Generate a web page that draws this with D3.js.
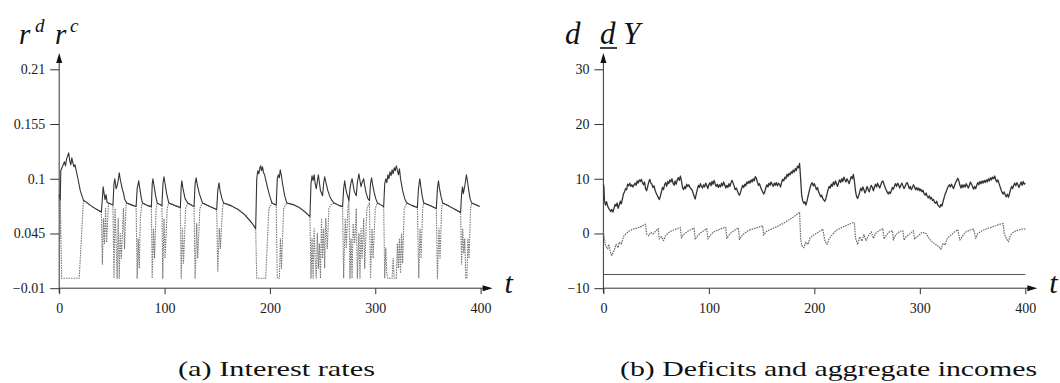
<!DOCTYPE html>
<html>
<head>
<meta charset="utf-8">
<script src="https://cdn.jsdelivr.net/npm/d3@7/dist/d3.min.js"></script>
<style>
  body { margin: 0; background: #fff; }
  svg { display: block; }
</style>
</head>
<body>
<svg id="chart" width="1060" height="383"></svg>
<script>
// ---- tick labels ----
const rTicks = [-0.01, 0.045, 0.1, 0.155, 0.21];
const rTickLabels = ["\u22120.01", "0.045", "0.1", "0.155", "0.21"];
const dTicks = [-10, 0, 10, 20, 30];
const dTickLabels = ["\u221210", "0", "10", "20", "30"];
const tTicks = [0, 100, 200, 300, 400];

// ---- (a) interest rates: r^d (solid) and r^c (dotted), [t, value] ----
const rd = [
  [0,0.084],[1,0.079],[1.5,0.108],[3,0.112],[5,0.117],[6,0.113],[7,0.12],[9,0.126],[10,0.118],[11,0.114],[12,0.121],[13,0.116],[14,0.112],[15,0.114],[16,0.109],[18,0.099],[20,0.088],[23,0.0785],
  [30,0.073],[35,0.0695],[40,0.0665],
  [41,0.08],[41.7,0.092],[42.5,0.086],[43.5,0.079],[44.5,0.084],[45.5,0.076],[47,0.0757],[51,0.0735],
  [52,0.095],[52.8,0.1],[54,0.09],[55,0.093],[56,0.098],[57,0.106],[58,0.099],[59,0.094],[60,0.089],[61,0.086],[62,0.08],[64,0.0757],[68,0.074],[73,0.072],
  [74,0.09],[75,0.095],[75.5,0.098],[76.5,0.09],[78,0.08],[79,0.0757],[84,0.073],[87.5,0.072],
  [88.3,0.095],[89,0.1],[90,0.093],[91.5,0.083],[93,0.0757],[97.5,0.073],
  [98.5,0.095],[99.4,0.102],[100.5,0.095],[102,0.085],[104,0.0757],[110,0.073],[115,0.071],
  [115.8,0.092],[116.4,0.098],[117.5,0.09],[119.5,0.08],[122,0.0757],[128,0.072],
  [129,0.095],[130,0.101],[131,0.094],[133,0.085],[136,0.0757],[143,0.072],[149.5,0.069],
  [150.5,0.088],[151.7,0.096],[152.7,0.088],[154.5,0.08],[156,0.0757],
  [163,0.073],[170,0.069],[176,0.064],[181,0.058],[184,0.054],[186.5,0.0497],
  [187.5,0.1],[188.5,0.108],[189.5,0.105],[190.5,0.111],[191.3,0.113],[192,0.108],[193,0.112],[194,0.106],[195,0.104],[196,0.099],[198,0.09],[200,0.082],[202,0.0757],[206,0.0735],
  [207,0.1],[208,0.104],[209,0.101],[209.8,0.109],[210.8,0.104],[212,0.095],[214,0.083],[216,0.0757],
  [222,0.074],[228,0.071],[233,0.067],[238,0.062],
  [239,0.095],[240,0.103],[241,0.098],[242,0.104],[243,0.095],[244,0.09],[245,0.097],[246,0.104],[247,0.096],[248,0.088],[250,0.083],[251,0.095],[252,0.102],[253,0.097],[255,0.088],[257,0.082],[259,0.078],[261,0.0757],[266,0.073],[269,0.072],
  [270,0.09],[271,0.098],[272,0.09],[273,0.085],[274,0.082],[275,0.078],[276,0.09],[277,0.096],[278,0.1],[279,0.094],[280,0.088],[281,0.085],[282,0.083],[283,0.096],[284.5,0.105],[285.5,0.098],[286.5,0.092],[287.5,0.096],[289,0.1],[290,0.093],[291.5,0.085],[293,0.08],[294.5,0.078],[295.5,0.095],[296.5,0.101],[297.5,0.094],[299,0.086],[300.5,0.08],[302,0.0757],[305,0.074],[308,0.072],
  [309,0.095],[310,0.1],[311,0.096],[312,0.104],[313,0.1],[314,0.107],[315,0.103],[316,0.109],[317,0.105],[318,0.111],[319,0.108],[320,0.113],[321,0.109],[322,0.104],[323,0.11],[324,0.1],[325,0.094],[326,0.088],[328,0.08],[330,0.0757],[335,0.073],[340,0.071],
  [341,0.09],[342.3,0.1],[343.3,0.092],[344.5,0.083],[346,0.0757],[352,0.073],[358,0.07],
  [359,0.09],[360,0.098],[361,0.09],[362.5,0.082],[364,0.0757],[370,0.0725],[376,0.069],[381,0.066],
  [382,0.085],[382.8,0.092],[383.6,0.085],[384.5,0.09],[385.5,0.096],[386.5,0.104],[387.5,0.098],[388.5,0.09],[390,0.08],[391.5,0.0757],[395,0.074],[399,0.072]
];
const rc = [
  [0,0.084],[0.5,0.04],[1,0.08],[1.5,0.05],[2.3,0.0],[19,0.0],[23,0.0785],
  [30,0.073],[35,0.0695],[40,0.0665],
  [41,0.014],[42,0.06],[43,0.035],[44,0.07],[45,0.036],[46.5,0.07],[47,0.0757],[51,0.0735],
  [52,0.0],[53,0.07],[54,0.04],[55,0.0],[56,0.06],[57,0.0],[58,0.045],[59,0.02],[61,0.07],[62,0.03],[63.5,0.075],[64,0.0757],[68,0.074],[73,0.072],
  [74,0.0],[75,0.04],[76,0.01],[77,0.06],[78.5,0.075],[79,0.0757],[84,0.073],[87.5,0.072],
  [88.3,0.0],[89.5,0.05],[90.5,0.02],[92,0.07],[93,0.0757],[97.5,0.073],
  [98.3,0.0],[99.5,0.06],[100.5,0.02],[102.5,0.07],[104,0.0757],[110,0.073],[115,0.071],
  [115.8,0.0],[117,0.05],[118,0.015],[120,0.07],[122,0.0757],[128,0.072],
  [129,0.0],[130.5,0.055],[131.5,0.02],[133.5,0.07],[136,0.0757],[143,0.072],[149.5,0.069],
  [150.5,0.007],[152,0.05],[153,0.03],[155,0.07],[156,0.0757],
  [163,0.073],[170,0.069],[176,0.064],[181,0.058],[184,0.054],[186.5,0.0497],
  [187.5,0.0],[196,0.0],[199,0.07],[202,0.0757],[206,0.0735],
  [207,0.0],[209,0.0],[210,0.04],[211,0.01],[213,0.07],[216,0.0757],
  [222,0.074],[228,0.071],[233,0.067],[238,0.062],
  [239,0.0],[240,0.04],[241,0.0],[242,0.05],[243,0.02],[244,0.0],[245,0.045],[246,0.01],[247,0.035],[248,0.0],[249,0.06],[250,0.02],[251,0.05],[252,0.01],[253,0.06],[254.5,0.03],[256,0.07],[258,0.074],[261,0.0757],[266,0.073],[269,0.072],
  [270,0.0],[271.5,0.06],[272.5,0.03],[274,0.07],[275,0.078],[276,0.0],[277,0.04],[278,0.0],[279,0.055],[280.5,0.035],[282,0.07],[283,0.0],[284.5,0.045],[285.5,0.0],[286.5,0.05],[287.5,0.02],[289,0.06],[290,0.01],[292,0.07],[294.5,0.076],[295.5,0.0],[297,0.05],[298,0.02],[300,0.07],[302,0.0757],[305,0.074],[308,0.072],
  [309,0.0],[310,0.03],[311,0.005],[312,0.0],[316,0.0],[317,0.02],[318,0.0],[320,0.0],[321,0.035],[322,0.01],[323,0.04],[324,0.005],[325,0.045],[326,0.015],[327.5,0.07],[330,0.0757],[335,0.073],[340,0.071],
  [341.3,0.0],[342.5,0.05],[343.5,0.02],[345,0.07],[346,0.0757],[352,0.073],[358,0.07],
  [359,0.0],[360.5,0.05],[361.5,0.02],[363,0.07],[364,0.0757],[370,0.0725],[376,0.069],[381,0.066],
  [382,0.014],[383,0.05],[384,0.025],[385,0.04],[386,0.0],[387,0.0],[388,0.04],[389,0.02],[390.5,0.07],[391.5,0.0757],[395,0.074],[399,0.072]
];

// ---- (b) deficits and aggregate incomes: Y (solid), d (dotted), d_ (flat) ----
const incomeY = [
  [0,9.0],[0.5,8.5],[1,6.0],[2,5.2],[3,5.8],[4,5.0],[5,4.6],[6,4.3],[7,4.0],[8,4.4],[9,3.9],[10,4.5],[11,5.3],[12,5.0],[13,5.6],[14,4.6],[15,5.2],[16,5.9],[17,5.4],[18,6.3],[19,7.2],[20,7.6],[21,8.2],[22,8.0],[23,9.0],[24,8.7],[25,9.2],[26,8.6],[27,8.9],[28,8.5],[30,9.2],[31,8.8],[32,9.6],[33,9.2],[34,9.8],[35,9.5],[36,9.9],[37,9.3],[38,8.9],[39,9.4],[40,8.2],
  [41,7.8],[42,8.6],[43,9.4],[44,9.9],[45,9.2],[46,9.0],[47,8.4],[48,8.7],[49,7.9],[50,7.4],[51,7.0],[52,6.6],[53,6.2],[54,6.8],[55,7.6],[56,8.4],[57,8.0],[58,8.9],[59,9.3],[60,8.6],[61,9.5],[62,9.1],[63,9.8],[64,9.4],[65,10.0],[66,9.2],[67,8.8],[68,9.6],[69,9.0],[70,9.8],[71,10.2],[72,9.7],[73,10.5],[74,9.6],[75,8.4],[76,8.0],[77,8.6],[78,8.2],[79,9.0],[80,8.6],
  [81,8.9],[82,8.4],[84,8.0],[85,7.4],[86,6.8],[87,6.3],[88,7.2],[89,8.0],[90,8.8],[91,8.4],[92,9.1],[93,8.6],[94,8.3],[95,8.9],[96,8.5],[97,9.2],[98,8.8],[99,8.2],[100,8.9],[101,9.3],[102,8.7],[103,9.5],[104,9.0],[105,9.7],[106,9.1],[107,8.6],[108,9.0],[109,8.4],[110,8.9],[111,8.5],[112,9.2],[113,8.7],[114,9.4],[115,8.9],[116,8.3],[117,8.8],[118,8.4],[119,9.1],[120,8.6],
  [121,9.3],[122,9.7],[123,9.2],[124,8.6],[125,8.0],[126,8.3],[127,7.8],[128,7.3],[129,7.0],[130,7.5],[131,8.2],[132,8.8],[133,8.4],[134,9.0],[135,8.7],[136,9.4],[137,9.1],[138,9.6],[139,9.2],[140,9.8],[141,9.4],[142,10.0],[143,9.6],[144,10.4],[145,10.1],[146,9.4],[147,8.8],[148,9.1],[149,8.5],[150,8.0],[151,7.6],[152,7.2],[153,7.6],[154,8.4],[155,8.9],[156,8.5],[157,9.2],[158,8.8],[159,9.4],[160,9.0],
  [161,8.6],[162,9.2],[163,8.8],[164,9.3],[165,8.7],[166,9.2],[167,8.9],[168,8.5],[169,9.4],[170,9.9],[171,9.6],[172,10.3],[173,10.0],[174,10.8],[175,10.4],[176,11.0],[177,10.7],[178,11.3],[179,11.0],[180,11.6],[181,11.2],[182,11.9],[183,11.5],[184,12.3],[185,12.0],[186,12.8],[187,10.0],[188,6.9],[189,6.0],[190,5.5],[191,5.8],[192,5.2],[193,5.9],[194,6.8],[195,7.6],[196,8.4],[197,9.0],[198,9.3],[199,8.7],[200,9.1],
  [201,8.6],[202,8.0],[203,8.4],[204,7.6],[205,7.2],[206,6.7],[207,7.0],[208,6.4],[209,6.1],[210,5.9],[211,6.4],[212,7.2],[213,8.0],[214,8.6],[215,8.3],[216,9.0],[217,8.6],[218,9.4],[219,8.9],[220,9.6],[221,9.1],[222,8.6],[223,9.3],[224,9.8],[225,9.3],[226,10.0],[227,9.5],[228,10.3],[229,9.8],[230,9.4],[231,10.0],[232,9.6],[233,9.1],[234,9.8],[235,10.4],[236,10.0],[237,10.8],[238,9.5],[239,7.8],[240,6.8],
  [241,6.4],[242,6.9],[243,7.6],[244,8.3],[245,7.8],[246,8.5],[247,8.0],[248,7.4],[249,7.9],[250,8.6],[251,8.1],[252,7.6],[253,8.3],[254,8.8],[255,8.4],[256,7.8],[257,8.5],[258,9.0],[259,8.5],[260,9.2],[261,8.7],[262,8.3],[263,8.9],[264,9.4],[265,9.6],[266,9.0],[267,8.5],[268,8.0],[269,7.6],[270,7.2],[271,7.6],[272,7.3],[273,7.8],[274,8.4],[275,8.1],[276,8.7],[277,9.1],[278,8.6],[279,9.2],[280,8.8],
  [281,8.3],[282,8.8],[283,9.2],[284,8.7],[285,8.2],[286,8.6],[287,9.1],[288,9.3],[289,8.8],[290,8.2],[291,8.6],[292,8.0],[293,8.4],[294,8.9],[295,8.5],[296,8.0],[297,8.4],[298,7.9],[299,8.3],[300,7.8],[301,8.1],[302,7.6],[303,7.9],[304,7.3],[305,7.0],[306,7.4],[307,6.8],[308,6.5],[309,6.9],[310,6.3],[311,6.6],[312,6.0],[313,6.2],[314,5.7],[315,5.5],[316,5.9],[317,5.2],[318,5.0],[319,4.8],[320,5.3],
  [321,5.0],[322,5.8],[323,6.5],[324,7.2],[325,7.6],[326,8.2],[327,8.6],[328,8.9],[329,8.5],[330,9.0],[331,8.6],[332,8.2],[333,8.8],[334,9.3],[335,9.7],[336,10.1],[337,9.6],[338,8.8],[339,8.3],[340,8.9],[341,8.4],[342,8.9],[343,8.5],[344,9.1],[345,8.7],[346,8.3],[347,8.8],[348,9.4],[349,9.0],[350,8.6],[351,8.1],[352,8.6],[353,8.2],[354,8.8],[355,9.3],[356,8.9],[357,9.5],[358,9.1],[359,9.6],[360,9.2],
  [361,9.7],[362,9.3],[363,9.8],[364,9.4],[365,10.0],[366,9.6],[367,10.2],[368,9.8],[369,10.3],[370,10.0],[371,10.5],[372,9.8],[373,9.4],[374,9.8],[375,9.2],[376,8.6],[377,8.0],[378,7.5],[379,7.2],[380,7.6],[381,7.0],[382,6.7],[383,7.2],[384,6.6],[385,7.3],[386,8.0],[387,8.6],[388,8.2],[389,8.8],[390,9.2],[391,8.7],[392,9.3],[393,8.9],[394,8.4],[395,8.9],[396,9.4],[397,8.8],[398,9.5],[399,9.0],[400,9.2]
];
const deficitD = [
  [0,0.3],[1,-1.0],[2,-2.2],[4,-2.8],[5,-2.0],[7,-3.6],[8,-4.0],[10,-3.2],[11,-2.6],[12,-2.0],[14,-2.6],[15,-1.6],[17,-1.9],[19,-0.6],[21,-0.1],[24,0.4],[28,0.8],[32,1.0],[36,1.3],[40,1.7],
  [41,-0.1],[43,-0.4],[45,0.2],[47,-0.1],[50,0.5],[52,0.9],[53,-1.0],[55,-0.6],[57,-1.3],[59,-0.4],[62,0.2],[66,0.6],[70,0.9],[73,1.1],[74,-0.8],[76,-0.2],[80,0.4],[84,0.8],[86,1.0],[87,-1.1],[89,-0.5],[92,0.1],[96,0.6],[98,0.9],[99,-1.0],[101,-0.4],[104,0.2],[108,0.6],[112,0.9],[116,1.1],[117,-0.9],[119,-0.3],[122,0.3],[126,0.8],[128,1.0],[129,-1.1],[131,-0.5],[134,0.1],[138,0.6],[143,0.9],[148,1.2],[151,1.4],[152,-0.3],[154,0.3],[158,0.7],[164,1.2],[170,1.8],[176,2.5],[181,3.1],[186,3.9],
  [187,-0.9],[188,-2.2],[190,-2.6],[192,-1.6],[194,-2.0],[196,-0.8],[199,-0.3],[202,0.0],[205,0.4],[208,0.8],[210,-1.4],[212,-2.0],[214,-1.0],[217,-0.2],[221,0.6],[226,1.1],[232,1.6],[237,2.0],[238,1.8],
  [239,-0.8],[241,-2.0],[243,-0.6],[245,-1.4],[247,-0.2],[249,-1.3],[251,-0.5],[254,0.3],[256,-0.9],[258,0.0],[262,0.6],[265,0.9],[266,-1.0],[268,-0.4],[271,0.3],[274,0.5],[275,-1.2],[277,-0.3],[281,0.4],[284,0.5],[285,-1.2],[287,-0.6],[291,0.0],[294,0.5],[295,-1.0],[298,-0.5],[302,0.2],[306,0.0],
  [309,-1.0],[312,-1.6],[315,-2.0],[318,-2.4],[320,-2.9],[322,-1.8],[324,-2.1],[326,-0.9],[329,-0.4],[333,0.3],[336,0.7],[338,-1.2],[340,-0.6],[343,0.2],[347,0.6],[351,0.8],[353,-0.9],[355,0.0],[359,0.5],[364,0.9],[370,1.3],[376,1.7],[379,1.8],[380,0.0],[382,-0.9],[384,-1.5],[386,-0.3],[389,0.3],[393,0.6],[397,0.8],[400,0.8]
];
const deficitFloor = [[0,-7.5],[400,-7.5]];

const svg = d3.select("#chart");
const serif = "Liberation Serif";

function drawPanel(opt) {
  const x = d3.scaleLinear().domain([0, 400]).range(opt.xr);
  const y = d3.scaleLinear().domain(opt.yd).range([288.2, 69.3]);
  const g = svg.append("g");

  // y ticks
  g.append("g")
    .attr("transform", "translate(" + opt.xr[0] + ",0)")
    .call(d3.axisLeft(y).tickValues(opt.yTicks).tickSize(9).tickPadding(5)
      .tickFormat((d, i) => opt.yLabels[i]))
    .call(s => s.select(".domain").remove())
    .call(s => s.attr("font-family", serif).attr("font-size", 14))
    .call(s => s.selectAll("text").attr("fill", "#1a1a1a"))
    .call(s => s.selectAll("line").attr("stroke", "#333"));

  // x ticks
  g.append("g")
    .attr("transform", "translate(0,288.2)")
    .call(d3.axisBottom(x).tickValues(tTicks).tickSize(6).tickPadding(9)
      .tickFormat(d3.format("d")))
    .call(s => s.select(".domain").remove())
    .call(s => s.attr("font-family", serif).attr("font-size", 14))
    .call(s => s.selectAll("text").attr("fill", "#1a1a1a"))
    .call(s => s.selectAll("line").attr("stroke", "#333"));

  // axis lines with arrows
  const x0 = opt.xr[0];
  g.append("line").attr("x1", x0).attr("x2", x0).attr("y1", 293).attr("y2", 58)
    .attr("stroke", "#333").attr("stroke-width", 1);
  g.append("path").attr("d", `M${x0},53 L${x0-3},63 L${x0+3},63 Z`).attr("fill", "#111");
  const xe = opt.xr[1] + 12;
  g.append("line").attr("x1", x0).attr("x2", xe - 6).attr("y1", 288.2).attr("y2", 288.2)
    .attr("stroke", "#333").attr("stroke-width", 1);
  g.append("path").attr("d", `M${xe},288.2 L${xe-10},285.2 L${xe-10},291.2 Z`).attr("fill", "#111");
  g.append("text").attr("x", xe + 12).attr("y", 293)
    .attr("font-family", serif).attr("font-style", "italic").attr("font-size", 30)
    .attr("fill", "#111").text("t");

  const line = d3.line().x(d => x(d[0])).y(d => y(d[1]));
  opt.series.forEach(s => {
    g.append("path").datum(s.data).attr("d", line)
      .attr("fill", "none").attr("stroke", s.color).attr("stroke-width", s.width)
      .attr("stroke-dasharray", s.dash || null).attr("stroke-linejoin", "round");
  });
  return g;
}

drawPanel({
  xr: [59.2, 480.6], yd: [-0.01, 0.21], yTicks: rTicks, yLabels: rTickLabels,
  series: [
    { data: rc, color: "#777", width: 1.1, dash: "1.5,1" },
    { data: rd, color: "#333", width: 1.1 }
  ]
});

drawPanel({
  xr: [603.4, 1025.3], yd: [-10, 30], yTicks: dTicks, yLabels: dTickLabels,
  series: [
    { data: deficitFloor, color: "#555", width: 1.2 },
    { data: deficitD, color: "#666", width: 1.2, dash: "1.5,1" },
    { data: incomeY, color: "#333", width: 1.3 }
  ]
});

// axis titles
const lab = svg.append("g").attr("font-family", serif).attr("font-style", "italic").attr("fill", "#111");
lab.append("text").attr("x", 19).attr("y", 44).attr("font-size", 29).text("r");
lab.append("text").attr("x", 35).attr("y", 32).attr("font-size", 19).text("d");
lab.append("text").attr("x", 55).attr("y", 44).attr("font-size", 29).text("r");
lab.append("text").attr("x", 70).attr("y", 32).attr("font-size", 19).text("c");

lab.append("text").attr("x", 565).attr("y", 44).attr("font-size", 31).text("d");
lab.append("text").attr("x", 600).attr("y", 44).attr("font-size", 31).text("d");
lab.append("line").attr("x1", 600).attr("x2", 617).attr("y1", 48).attr("y2", 48)
  .attr("stroke", "#111").attr("stroke-width", 1.6);
lab.append("text").attr("x", 623).attr("y", 44).attr("font-size", 31).text("Y");

// captions
const cap = svg.append("g").attr("font-family", serif).attr("font-size", 22).attr("fill", "#111");
cap.append("text").attr("x", 178).attr("y", 376).attr("textLength", 197)
  .attr("lengthAdjust", "spacingAndGlyphs").text("(a) Interest rates");
cap.append("text").attr("x", 620).attr("y", 376).attr("textLength", 417)
  .attr("lengthAdjust", "spacingAndGlyphs").text("(b) Deficits and aggregate incomes");
</script>
</body>
</html>
